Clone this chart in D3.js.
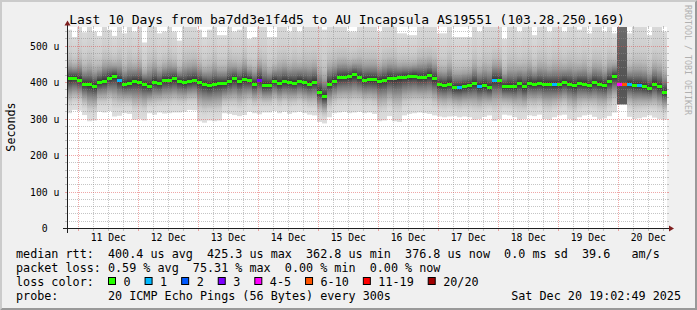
<!DOCTYPE html>
<html><head><meta charset="utf-8">
<script src="https://cdn.jsdelivr.net/npm/d3@7"></script>
<style>
html,body{margin:0;padding:0;background:#f0f0f0;}
svg{display:block;font-family:"DejaVu Sans Mono",monospace;}
text{white-space:pre;}
</style></head><body>
<svg id="chart" width="697" height="310"></svg>
<script>
// ---------------- data ----------------
const title = "Last 10 Days from ba7dd3e1f4d5 to AU Incapsula AS19551 (103.28.250.169)";
const yAxisTitle = "Seconds";
const watermark = "RRDTOOL / TOBI OETIKER";
const startTime = Date.UTC(2025, 11, 10, 19, 28);
const endTime = Date.UTC(2025, 11, 20, 19, 28);
const stepHours = 2;
const yMax = 551;
const yMajorTicks = [0, 100, 200, 300, 400, 500];

// median RTT (microseconds) per 2h step
const median = [
 410,412,407,396,394,390,401,404,412,417,
 405,396,398,403,401,396,390,401,397,406,
 406,410,403,399,403,406,401,396,391,396,
 397,397,403,410,402,409,407,396,407,392,
 393,404,397,402,401,398,404,399,396,401,
 373,361,396,404,413,414,416,421,414,407,
 408,408,404,406,412,410,413,415,416,418,
 413,414,419,410,394,392,396,386,386,389,
 392,397,389,391,386,406,405,389,389,388,
 397,388,397,396,397,395,396,394,394,400,
 396,391,398,396,392,399,396,392,404,416,
 394,394,396,392,392,389,385,396,388,373
];
// lowest ping per step
const pingMin = [
 316,325,323,311,294,296,320,318,322,307,
 309,316,314,298,300,296,316,312,318,315,
 316,318,318,320,325,324,294,290,296,294,
 296,316,314,311,308,311,320,316,313,318,
 318,322,316,320,314,318,320,316,312,310,
 292,288,305,316,318,320,316,318,320,316,
 318,314,294,296,308,294,292,310,314,316,
 318,316,314,310,307,305,307,308,305,307,
 305,298,300,306,310,295,300,312,310,305,
 298,300,310,308,312,300,298,305,310,312,
 300,296,305,310,312,306,300,302,308,318,
 340,340,306,300,302,305,310,304,300,298
];
// highest ping per step
const pingMax = [
 545,525,560,538,560,540,528,560,545,528,
 560,535,560,540,560,510,560,560,535,540,
 560,540,515,560,560,560,545,525,545,560,
 530,530,560,540,545,560,520,525,560,560,
 525,525,560,560,540,560,540,560,560,560,
 560,545,560,560,560,560,540,540,560,560,
 560,560,540,560,560,560,535,535,530,530,
 560,560,560,560,535,535,560,525,525,525,
 525,560,540,560,560,560,560,520,560,560,
 540,560,560,530,560,560,540,560,560,540,
 560,560,545,560,535,560,560,540,560,535,
 560,560,535,560,560,560,530,560,560,540
];
// lost pings (of 20) per step
const lossCount = [
 0,0,0,0,0,0,0,0,0,0, 1,0,0,0,0,0,0,0,0,0,
 0,0,0,0,0,0,0,0,0,0, 0,0,0,0,0,0,0,0,3,0,
 0,0,0,0,0,0,0,0,0,0, 0,0,0,0,0,0,0,0,0,0,
 0,0,0,0,0,0,0,0,0,0, 0,0,0,0,0,0,0,0,1,0,
 0,0,1,0,0,1,0,0,0,0, 0,0,0,0,0,0,0,1,0,0,
 0,0,0,0,0,0,0,0,0,0, 5,8,1,0,1,0,0,0,0,0
];
const lossLabels = ["0","1","2","3","4-5","6-10","11-19","20/20"];
const lossColors = ["#26ff00","#00b8ff","#0059ff","#7e00ff","#ff00ff","#ff5500","#ff0000","#a00000"];
const statLines = [
 "median rtt:  400.4 us avg  425.3 us max  362.8 us min  376.8 us now  0.0 ms sd  39.6   am/s",
 "packet loss: 0.59 % avg  75.31 % max  0.00 % min  0.00 % now",
 "loss color:",
 "probe:       20 ICMP Echo Pings (56 Bytes) every 300s"
];
const dateStamp = "Sat Dec 20 19:02:49 2025";

// ---------------- layout ----------------
const W = 697, H = 310;
const X0 = 67, X1 = 667, Y0 = 228.5, Y1 = 27.5;
const svg = d3.select("#chart");
const x = d3.scaleUtc().domain([startTime, endTime]).range([X0, X1]);
const y = d3.scaleLinear().domain([0, yMax]).range([Y0, Y1]);
const stepMs = stepHours * 3600 * 1000;
const lossIdx = c => c === 0 ? 0 : c === 1 ? 1 : c === 2 ? 2 : c === 3 ? 3 : c <= 5 ? 4 : c <= 10 ? 5 : c <= 19 ? 6 : 7;

// background + 3D frame
svg.append("rect").attr("width", W).attr("height", H).attr("fill", "#f0f0f0");
svg.append("polygon").attr("points", `0,0 ${W},0 ${W-2},2 2,2 2,${H-2} 0,${H}`).attr("fill", "#cbcbcb");
svg.append("polygon").attr("points", `${W},0 ${W},${H} 0,${H} 2,${H-2} ${W-2},${H-2} ${W-2},2`).attr("fill", "#999999");
svg.append("rect").attr("x", X0).attr("y", 27).attr("width", X1 - X0).attr("height", 201.5).attr("fill", "#fff");

// gradients
const defs = svg.append("defs");
function grad(id, stops, up) {
  const g = defs.append("linearGradient").attr("id", id)
    .attr("x1", 0).attr("x2", 0).attr("y1", up ? 1 : 0).attr("y2", up ? 0 : 1);
  stops.forEach(([o, c]) => g.append("stop").attr("offset", o).attr("stop-color", c));
}
grad("smokeUp", [[0,"#303030"],[0.06,"#4a4a4a"],[0.15,"#747474"],[0.27,"#a0a0a0"],[0.4,"#bcbcbc"],[0.58,"#cdcdcd"],[1,"#dadada"]], true);
grad("smokeDown", [[0,"#303030"],[0.1,"#4c4c4c"],[0.25,"#767676"],[0.45,"#a4a4a4"],[0.65,"#c8c8c8"],[0.8,"#d8d8d8"],[1,"#dddddd"]], false);
grad("smokeLossUp", [[0,"#505050"],[0.5,"#5e5e5e"],[1,"#6e6e6e"]], true);
grad("smokeLossDown", [[0,"#505050"],[1,"#5e5e5e"]], false);
defs.append("clipPath").attr("id", "plotClip").append("rect")
  .attr("x", X0).attr("y", 27).attr("width", X1 - X0).attr("height", 201.5);

const bins = median.map((m, i) => ({
  t0: startTime + i * stepMs, t1: startTime + (i + 1) * stepMs,
  med: m, lo: pingMin[i], hi: pingMax[i], loss: lossCount[i]
}));

const smoke = svg.append("g").attr("clip-path", "url(#plotClip)");
smoke.selectAll("rect.up").data(bins).join("rect").attr("class", "up")
  .attr("x", d => x(d.t0)).attr("width", d => x(d.t1) - x(d.t0))
  .attr("y", d => y(d.hi)).attr("height", d => y(d.med) - y(d.hi))
  .attr("fill", d => d.loss >= 4 ? "url(#smokeLossUp)" : "url(#smokeUp)");
smoke.selectAll("rect.down").data(bins).join("rect").attr("class", "down")
  .attr("x", d => x(d.t0)).attr("width", d => x(d.t1) - x(d.t0))
  .attr("y", d => y(d.med)).attr("height", d => y(d.lo) - y(d.med))
  .attr("fill", d => d.loss >= 4 ? "url(#smokeLossDown)" : "url(#smokeDown)");

// grid
const gridCol = "rgba(140,140,140,0.5)", mgridCol = "rgba(224,80,80,0.5)";
const crisp = v => Math.floor(v) + 0.5;
const grid = svg.append("g").attr("shape-rendering", "crispEdges");
function hLine(v, col) {
  const yy = crisp(y(v));
  grid.append("line").attr("x1", X0 - 2).attr("x2", X0).attr("y1", yy).attr("y2", yy).attr("stroke", col);
  grid.append("line").attr("x1", X1).attr("x2", X1 + 2).attr("y1", yy).attr("y2", yy).attr("stroke", col);
  grid.append("line").attr("x1", X0).attr("x2", X1).attr("y1", yy).attr("y2", yy).attr("stroke", col).attr("stroke-dasharray", "1,1");
}
function vLine(t, col) {
  const xx = crisp(x(t));
  grid.append("line").attr("y1", Y0).attr("y2", Y0 + 2).attr("x1", xx).attr("x2", xx).attr("stroke", col);
  grid.append("line").attr("y1", Y1 - 2).attr("y2", Y1).attr("x1", xx).attr("x2", xx).attr("stroke", col);
  grid.append("line").attr("y1", Y1).attr("y2", Y0).attr("x1", xx).attr("x2", xx).attr("stroke", col).attr("stroke-dasharray", "1,1");
}
y.ticks(yMax / 20).filter(v => v % 100 !== 0 && v > 0).forEach(v => hLine(v, gridCol));
d3.utcHour.every(6).range(new Date(startTime), new Date(endTime)).filter(t => t.getUTCHours() !== 0).forEach(t => vLine(t, gridCol));
yMajorTicks.filter(v => v > 0).forEach(v => hLine(v, mgridCol));
const days = d3.utcDay.range(new Date(startTime), new Date(endTime));
days.forEach(t => vLine(t, mgridCol));

// median marks
svg.append("g").attr("shape-rendering", "crispEdges").selectAll("rect").data(bins).join("rect")
  .attr("x", d => x(d.t0)).attr("width", d => x(d.t1) - x(d.t0))
  .attr("y", d => Math.round(y(d.med) - 1.5)).attr("height", 3)
  .attr("fill", d => lossColors[lossIdx(d.loss)]);

// axes
const ax = svg.append("g").attr("shape-rendering", "crispEdges");
ax.append("line").attr("x1", X0 - 4).attr("x2", X1 + 4).attr("y1", Y0).attr("y2", Y0).attr("stroke", "#1f1f1f");
ax.append("line").attr("x1", X0 + 0.5).attr("x2", X0 + 0.5).attr("y1", Y0 + 4).attr("y2", Y1 - 4).attr("stroke", "#1f1f1f");
svg.append("polygon").attr("points", `${X1+2},${Y0-3} ${X1+2},${Y0+3} ${X1+7},${Y0}`).attr("fill", "#7f1f1f");
svg.append("polygon").attr("points", `${X0-2.5},${Y1-2} ${X0+3.5},${Y1-2} ${X0+0.5},${Y1-7}`).attr("fill", "#7f1f1f");

// axis labels
const tickFont = 9.8;
svg.append("g").selectAll("text").data(yMajorTicks).join("text")
  .attr("x", 59.5).attr("y", v => crisp(y(v)) + 3.5)
  .attr("text-anchor", "end").attr("font-size", tickFont)
  .text(v => v === 0 ? "0  " : v + " u");
svg.append("g").selectAll("text").data(days).join("text")
  .attr("x", t => x(+t + 12 * 3600 * 1000)).attr("y", 240.5)
  .attr("text-anchor", "middle").attr("font-size", tickFont)
  .text(t => d3.utcFormat("%d %b")(t));

// titles
svg.append("text").attr("x", 347).attr("y", 23.5).attr("text-anchor", "middle").attr("font-size", 13).text(title);
svg.append("text").attr("transform", "translate(14.5,127) rotate(-90)").attr("text-anchor", "middle").attr("font-size", 11.7).text(yAxisTitle);
svg.append("text").attr("transform", "translate(685,5) rotate(90)").attr("font-size", 8.3).attr("fill", "#b0b0b0").text(watermark);

// legend
const legFont = 11.75;
const lineY = [257.5, 271.7, 286, 300.2];
statLines.forEach((s, i) => svg.append("text").attr("x", 16).attr("y", lineY[i]).attr("font-size", legFont).text(s));
svg.append("text").attr("x", 681).attr("y", lineY[3]).attr("text-anchor", "end").attr("font-size", legFont).text(dateStamp);
let sx = 108.5;
lossLabels.forEach((lab, i) => {
  svg.append("rect").attr("x", sx).attr("y", 277.5).attr("width", 7).attr("height", 7)
    .attr("fill", lossColors[i]).attr("stroke", "#000").attr("stroke-width", 1);
  const t = svg.append("text").attr("x", sx + 15).attr("y", lineY[2]).attr("font-size", legFont).text(lab);
  sx = sx + 15 + t.node().getComputedTextLength() + 14.5;
});
</script>
</body></html>
